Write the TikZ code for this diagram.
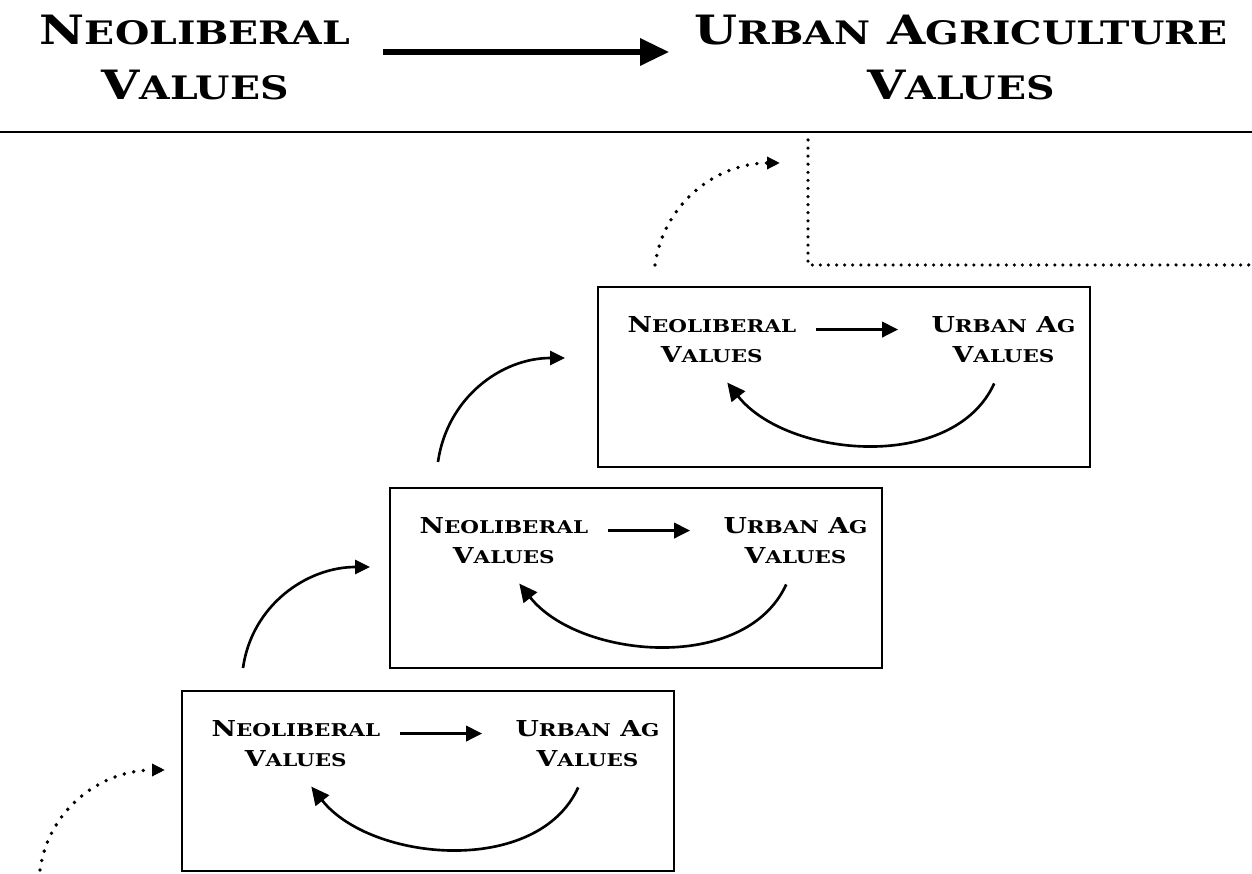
\documentclass[tikz,border=0pt]{standalone}
\usepackage{fontspec}
\setmainfont{DejaVu Serif}[FakeStretch=1.22]
\usepackage{graphicx}
\usetikzlibrary{positioning,arrows.meta}

\newcommand{\smallcap}[1]{\scalebox{0.8}{#1}}

\begin{document}
\begin{tikzpicture}[x=0.02cm, y=-0.02cm,
    bigtext/.style={font=\bfseries\fontsize{23}{31}\selectfont, align=center, inner sep=0pt},
    smalltext/.style={font=\bfseries\fontsize{12.5}{17}\selectfont, align=center, inner sep=0pt},
    box/.style={draw, line width=1pt, minimum width=9.84cm, minimum height=3.6cm, inner sep=0pt},
    bigarrow/.style={line width=3.4pt, -{Triangle[length=0.58cm, width=0.52cm]}},
    innerarrow/.style={line width=1.9pt, -{Triangle[length=0.32cm, width=0.3cm]}},
    looparrow/.style={line width=1.5pt, -{Triangle[length=0.36cm, width=0.34cm]}},
    stairarrow/.style={line width=1.5pt, -{Triangle[length=0.3cm, width=0.28cm]}},
    dotarrow/.style={line width=2.2pt, line cap=round, dash pattern=on 0pt off 5.5pt, -{Triangle[length=0.26cm, width=0.24cm]}},
    dotline/.style={line width=2pt, line cap=round, dash pattern=on 0pt off 4.6pt}]

    \useasboundingbox (0,0) rectangle (1252,874);

    % 标题
    \node[bigtext] (nlh) at (195,57.5) {N\smallcap{EOLIBERAL}\\V\smallcap{ALUES}};
    \node[bigtext] (uah) at (961,57.5) {U\smallcap{RBAN} A\smallcap{GRICULTURE}\\V\smallcap{ALUES}};
    \draw[bigarrow, shorten <=0.66cm, shorten >=0.5cm] ([yshift=0.11cm]nlh.east) -- ([yshift=0.11cm]uah.west);

    \coordinate (rl) at (0,132);
    \coordinate (rr) at (1252,132);
    \draw[line width=1.1pt] (rl) -- (rr);

    % 定义方框
    \node[box] (b1) at (428,781) {};
    \node[box] (b2) at (636,578) {};
    \node[box] (b3) at (844,377) {};

    % 方框里的文字
    \node[smalltext, below right=0.6cm and 0.6cm of b1.north west] (nl1) {N\smallcap{EOLIBERAL}\\V\smallcap{ALUES}};
    \node[smalltext, below left=0.6cm and 0.3cm of b1.north east] (ua1) {U\smallcap{RBAN} A\smallcap{G}\\V\smallcap{ALUES}};
    \node[smalltext, below right=0.6cm and 0.6cm of b2.north west] (nl2) {N\smallcap{EOLIBERAL}\\V\smallcap{ALUES}};
    \node[smalltext, below left=0.6cm and 0.3cm of b2.north east] (ua2) {U\smallcap{RBAN} A\smallcap{G}\\V\smallcap{ALUES}};
    \node[smalltext, below right=0.6cm and 0.6cm of b3.north west] (nl3) {N\smallcap{EOLIBERAL}\\V\smallcap{ALUES}};
    \node[smalltext, below left=0.6cm and 0.3cm of b3.north east] (ua3) {U\smallcap{RBAN} A\smallcap{G}\\V\smallcap{ALUES}};

    % 方框里的箭头
    \draw[innerarrow, shorten <=0.4cm, shorten >=0.66cm] ([yshift=0.2cm]nl1.east) -- ([yshift=0.2cm]ua1.west);
    \draw[innerarrow, shorten <=0.4cm, shorten >=0.66cm] ([yshift=0.2cm]nl2.east) -- ([yshift=0.2cm]ua2.west);
    \draw[innerarrow, shorten <=0.4cm, shorten >=0.66cm] ([yshift=0.2cm]nl3.east) -- ([yshift=0.2cm]ua3.west);

    \draw[looparrow, shorten <=0.45cm, shorten >=0.5cm] (ua1.south) .. controls +(-50,110) and +(75,95) .. (nl1.south);
    \draw[looparrow, shorten <=0.45cm, shorten >=0.5cm] (ua2.south) .. controls +(-50,110) and +(75,95) .. (nl2.south);
    \draw[looparrow, shorten <=0.45cm, shorten >=0.5cm] (ua3.south) .. controls +(-50,110) and +(75,95) .. (nl3.south);

    % 方框之间的箭头
    \coordinate (s0) at (40,870);
    \coordinate (e1) at (165,770);
    \coordinate (s1) at (243,668);
    \coordinate (e2) at (370,567);
    \coordinate (s2) at (438,462);
    \coordinate (e3) at (565,358);
    \coordinate (s3) at (655,265);
    \coordinate (e4) at (780,163);

    \draw[dotarrow] (s0) to[out=82, in=180] (e1);
    \draw[stairarrow] (s1) to[out=82, in=180] (e2);
    \draw[stairarrow] (s2) to[out=82, in=180] (e3);
    \draw[dotarrow] (s3) to[out=82, in=180] (e4);

    % 虚线框
    \coordinate (ft) at (808,140);
    \coordinate (fc) at (808,265);
    \coordinate (fr) at (1252,265);
    \draw[dotline] (ft) -- (fc) -- (fr);

\end{tikzpicture}
\end{document}
